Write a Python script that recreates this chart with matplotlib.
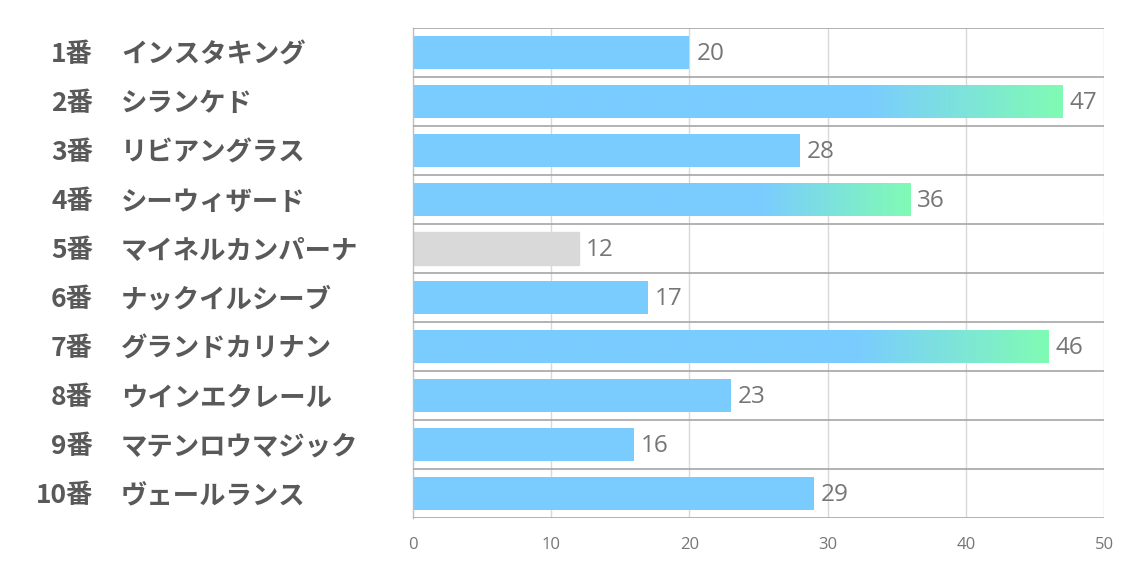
import numpy as np
import matplotlib
matplotlib.use('Agg')
import matplotlib.pyplot as plt
from matplotlib.colors import LinearSegmentedColormap
from matplotlib.transforms import blended_transform_factory

plt.rcParams['font.family'] = ['Noto Sans CJK JP', 'DejaVu Sans']

numbers = ['1番', '2番', '3番', '4番', '5番', '6番', '7番', '8番', '9番', '10番']
names = ['インスタキング', 'シランケド', 'リビアングラス', 'シーウィザード', 'マイネルカンパーナ',
         'ナックイルシーブ', 'グランドカリナン', 'ウインエクレール', 'マテンロウマジック', 'ヴェールランス']
values = [20, 47, 28, 36, 12, 17, 46, 23, 16, 29]
xticks = [0, 10, 20, 30, 40, 50]

blue = '#7ACCFF'
green = '#80FBB4'
gray = '#D9D9D9'
label_col = '#595959'
value_col = '#767676'

fig = plt.figure(figsize=(11.34, 5.67), dpi=100)
ax = fig.add_axes([413/1134, 1 - 518/567, 691/1134, 490/567])

y = np.arange(len(values))
h = 0.66
bars = ax.barh(y, values, height=h, color=blue, zorder=2)

# gradient on the long bars: plain blue for the first 70%, then blue -> green
cmap = LinearSegmentedColormap.from_list('g', [(0, blue), (0.7, blue), (1, green)])
grad = np.linspace(0, 1, 256).reshape(1, -1)
vmin = min(values)
for b, v in zip(bars, values):
    if v == vmin:
        b.set_color(gray)
    elif v >= 30:
        yy = b.get_y()
        im = ax.imshow(grad, cmap=cmap, aspect='auto', extent=(0, v, yy + h, yy),
                       zorder=2, interpolation='bilinear')
        im.set_clip_path(b)
        b.set_alpha(0)

for yi, v in zip(y, values):
    ax.text(v + 0.5, yi + 0.03, str(v), va='center', ha='left', fontsize=17.5,
            color=value_col, family=['Open Sans', 'DejaVu Sans'])

tr = blended_transform_factory(fig.transFigure, ax.transData)
for yi, n, nm in zip(y, numbers, names):
    ax.text(93/1134, yi + 0.05, n, transform=tr, ha='right', va='center',
            fontsize=19, fontweight='bold', color=label_col)
    ax.text(121/1134, yi + 0.05, nm, transform=tr, ha='left', va='center',
            fontsize=19, fontweight='bold', color=label_col)

ax.set_xlim(0, 50)
ax.set_ylim(len(values) - 0.5, -0.5)
ax.set_xticks(xticks)
ax.set_xticklabels([str(t) for t in xticks], fontsize=12, color=value_col,
                   family=['Open Sans', 'DejaVu Sans'])
ax.set_yticks([])
ax.tick_params(axis='x', length=0, pad=14)

for xt in xticks[1:]:
    ax.axvline(xt, color='#D9D9D9', lw=1, zorder=1)
for yb in np.arange(-0.5, len(values), 1):
    ax.axhline(yb, color='#A6A6A6', lw=1.2, zorder=3)

for s in ['top', 'right', 'bottom']:
    ax.spines[s].set_visible(False)
ax.spines['left'].set_color('#BFBFBF')
ax.spines['left'].set_linewidth(1)

fig.savefig('out.png', dpi=100)
